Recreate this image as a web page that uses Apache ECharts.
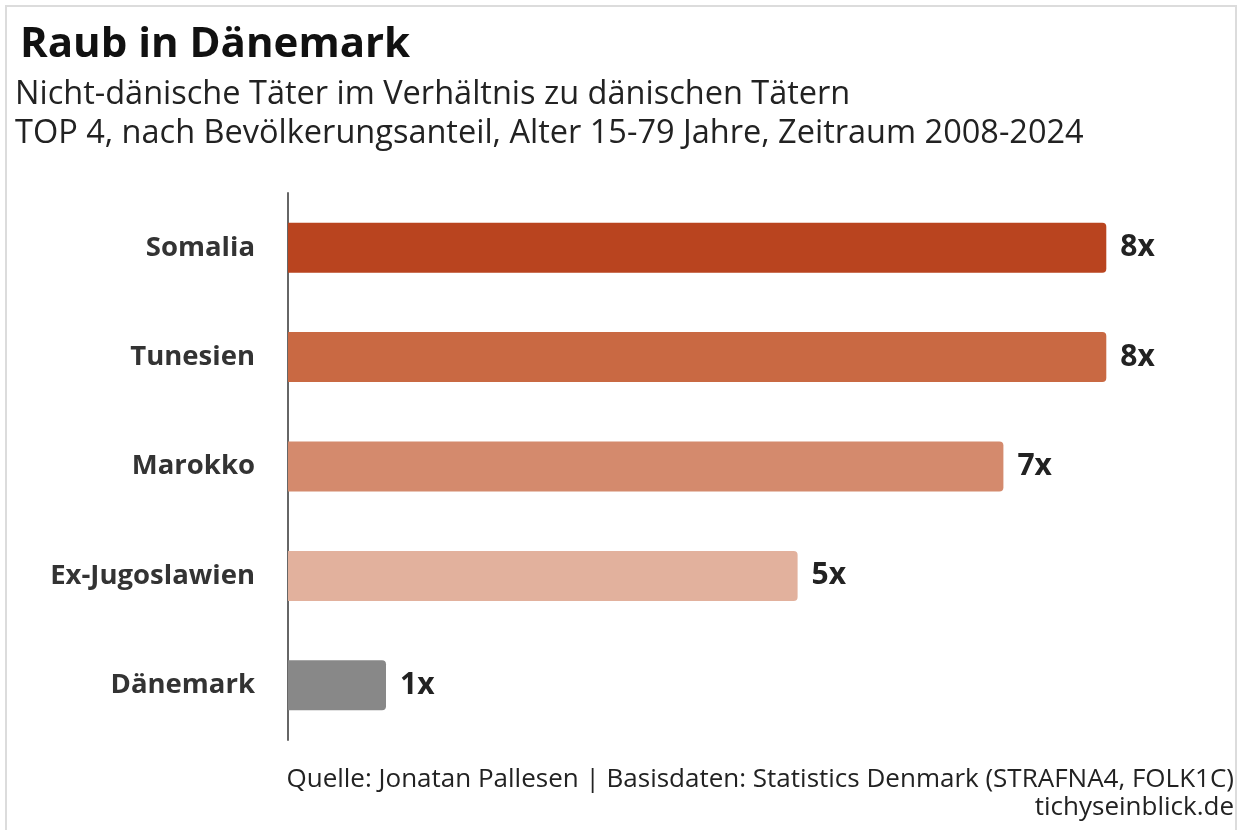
<!DOCTYPE html>
<html>
<head>
<meta charset="utf-8">
<script src="https://cdn.jsdelivr.net/npm/echarts@6/dist/echarts.min.js"></script>
<style>
  html, body { margin: 0; padding: 0; background: #fff; }
  #chart { width: 1239px; height: 830px; }
</style>
</head>
<body>
<div id="chart"></div>
<script>
// Daten
const laender = ["Somalia", "Tunesien", "Marokko", "Ex-Jugoslawien", "Dänemark"];
const verhaeltnis = [8.35, 8.35, 7.3, 5.2, 1.0];
const beschriftung = ["8x", "8x", "7x", "5x", "1x"];
const farben = ["#b9441f", "#c96943", "#d48a6d", "#e2b19d", "#888888"];

const font = "'Open Sans', sans-serif";

let chart = echarts.init(document.getElementById("chart"));
let option = {
  backgroundColor: "#fff",
  animation: false,
  title: [
    {
      text: "Raub in Dänemark",
      left: 15,
      top: 19,
      textStyle: { fontFamily: font, fontSize: 42, fontWeight: "bold", color: "#111" },
    },
    {
      text: "Nicht-dänische Täter im Verhältnis zu dänischen Tätern\nTOP 4, nach Bevölkerungsanteil, Alter 15-79 Jahre, Zeitraum 2008-2024",
      left: 10,
      top: 70,
      textStyle: { fontFamily: font, fontSize: 32.5, fontWeight: "normal", color: "#222", lineHeight: 39 },
    },
    {
      text: "Quelle: Jonatan Pallesen | Basisdaten: Statistics Denmark (STRAFNA4, FOLK1C)",
      right: 0,
      top: 762,
      textStyle: { fontFamily: font, fontSize: 26, fontWeight: "normal", color: "#222" },
    },
    {
      text: "tichyseinblick.de",
      right: 0,
      top: 790,
      textStyle: { fontFamily: font, fontSize: 26, fontWeight: "normal", color: "#222" },
    },
  ],
  graphic: [
    {
      type: "rect",
      shape: { x: 6, y: 6, width: 1230, height: 830 },
      style: { fill: "none", stroke: "#dcdcdc", lineWidth: 2 },
      silent: true,
    },
  ],
  grid: { left: 288, right: 69, top: 193, bottom: 90 },
  xAxis: {
    type: "value",
    min: 0,
    max: 9,
    show: false,
  },
  yAxis: {
    type: "category",
    inverse: true,
    data: laender,
    axisLine: { show: true, lineStyle: { color: "#666", width: 2 } },
    axisTick: { show: false },
    axisLabel: {
      margin: 33,
      fontFamily: font,
      fontSize: 27.5,
      fontWeight: "bold",
      color: "#333",
    },
  },
  series: [
    {
      type: "bar",
      barWidth: 50,
      data: verhaeltnis.map((v, i) => ({
        value: v,
        itemStyle: { color: farben[i] },
      })),
      itemStyle: { borderRadius: [0, 4, 4, 0] },
      label: {
        show: true,
        position: "right",
        distance: 14,
        formatter: (p) => beschriftung[p.dataIndex],
        fontFamily: font,
        fontSize: 30,
        fontWeight: "bold",
        color: "#222",
      },
    },
  ],
};
chart.setOption(option);
</script>
</body>
</html>
